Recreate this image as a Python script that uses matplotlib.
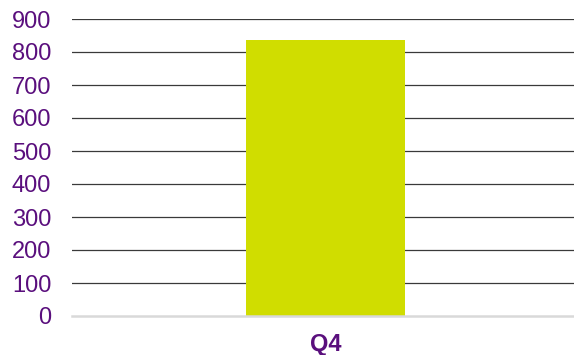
import matplotlib
matplotlib.use("Agg")
import matplotlib.pyplot as plt

categories = ["Q4"]
values = [836]
yticks = [0, 100, 200, 300, 400, 500, 600, 700, 800, 900]

purple = "#5A0F7D"
bar_color = "#D0DD00"

plt.rcParams['font.family'] = ['Liberation Sans', 'DejaVu Sans']

fig = plt.figure(figsize=(5.74, 3.55), dpi=100)
ax = fig.add_axes([72/574, 1 - 316/355, (574-72)/574, (316-19)/355])

ax.bar(range(len(categories)), values, width=0.317, color=bar_color, zorder=3)
ax.set_xlim(-0.505, 0.495)
ax.set_ylim(0, 900)
ax.set_yticks(yticks)
ax.set_yticklabels([str(t) for t in yticks], color=purple, fontsize=17)
ax.set_xticks(range(len(categories)))
ax.set_xticklabels(categories, color=purple, fontsize=17, fontweight='bold')
ax.tick_params(axis='both', length=0)
ax.tick_params(axis='y', pad=15)
ax.tick_params(axis='x', pad=12)

for t in yticks[1:]:
    ax.axhline(t, color="#3a3a3a", lw=0.9, zorder=1)

for s in ["top", "right", "left"]:
    ax.spines[s].set_visible(False)
ax.spines["bottom"].set_color("#D9D9D9")
ax.spines["bottom"].set_linewidth(1.8)
ax.spines["bottom"].set_zorder(4)

fig.savefig("out.png", dpi=100)
